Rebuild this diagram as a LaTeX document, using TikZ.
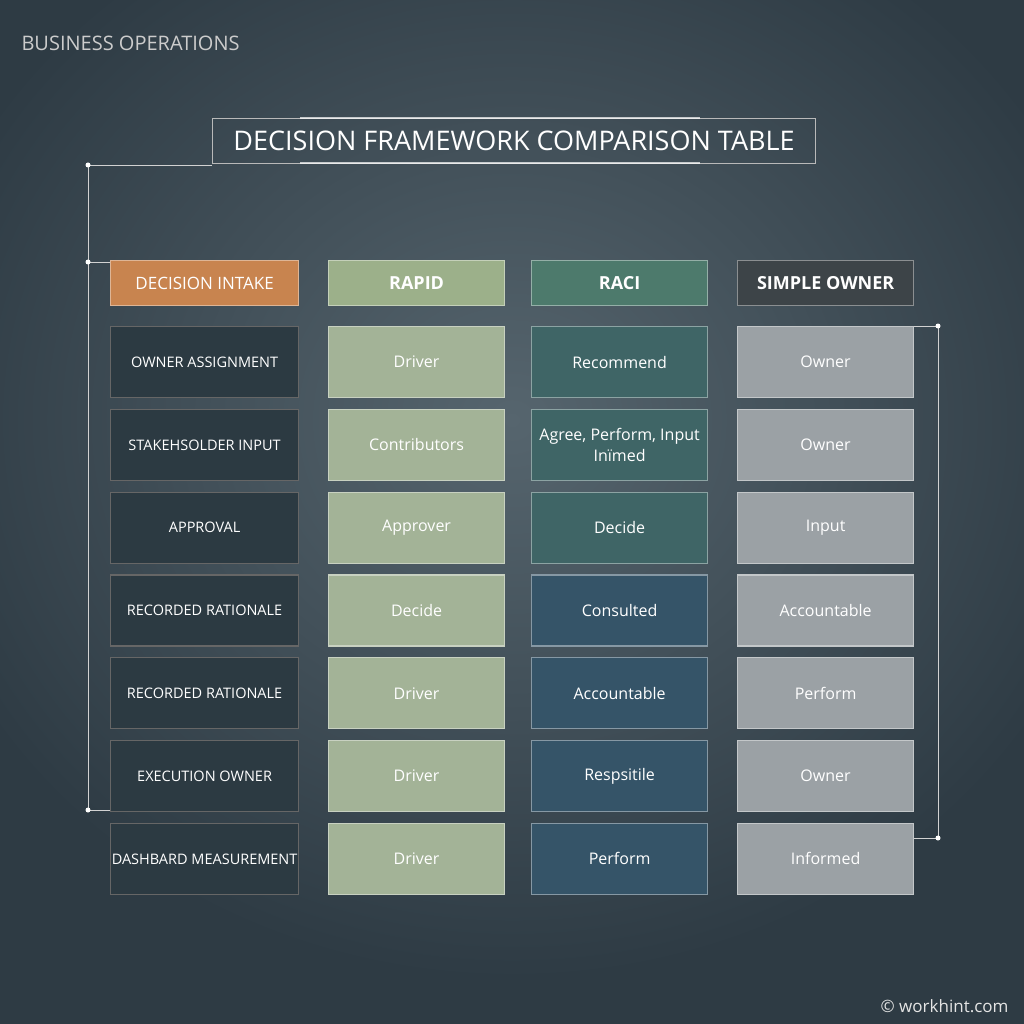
\documentclass[tikz,border=0pt]{standalone}
\usepackage{fontspec}
\setmainfont{Open Sans}
\begin{document}
\begin{tikzpicture}[x=1pt,y=-1pt,
 cell/.style={draw=#1!60!white,line width=1.2pt,minimum width=176pt,minimum height=71pt,inner sep=0pt,anchor=north west,text=white,font=\fontsize{16}{21}\selectfont,align=center},
 hdr/.style={cell=#1,minimum height=45pt,font=\fontsize{18}{20}\selectfont\bfseries},
 dot/.style={circle,fill=white,inner sep=0pt,minimum size=5pt},
 wire/.style={draw=white!65!gray,line width=0.8pt}]
\definecolor{bgA}{HTML}{2E3B44}\definecolor{bgB}{HTML}{56656E}
\definecolor{orng}{HTML}{C8844F}\definecolor{rph}{HTML}{9CB08A}\definecolor{rpc}{HTML}{A3B397}
\definecolor{rch}{HTML}{4D7A6C}\definecolor{rct}{HTML}{3F6566}\definecolor{rcb}{HTML}{355468}
\definecolor{soh}{HTML}{3D4448}\definecolor{soc}{HTML}{9BA1A5}\definecolor{lab}{HTML}{2C3A42}
\useasboundingbox (0,0) rectangle (1024,1024);
\fill[bgA] (0,0) rectangle (1024,1024);
\shade[inner color=bgB,outer color=bgA] (512,420) ellipse (620 and 560);
\node[anchor=west,text=white!60!gray,font=\fontsize{20}{22}\selectfont] (bo) at (18,43) {BUSINESS OPERATIONS};
\node[draw=white!45!gray,line width=1pt,minimum width=603pt,minimum height=45pt,anchor=north west,inner sep=0pt,text=white,font=\fontsize{27}{30}\selectfont] (title) at (212,118) {DECISION FRAMEWORK COMPARISON TABLE};
\draw[white,line width=1.5pt,opacity=0.7] (300,118)--(700,118) (300,163)--(700,163);
% headers
\node[hdr=orng,fill=orng,minimum width=188pt,font=\fontsize{17}{20}\selectfont] (h0) at (110,260) {DECISION INTAKE};
\node[hdr=rph,fill=rph] (h1) at (328,260) {RAPID};
\node[hdr=rch,fill=rch] (h2) at (531,260) {RACI};
\node[hdr=soh,fill=soh] (h3) at (737,260) {SIMPLE OWNER};
\foreach \i/\a/\b/\c/\d/\rc in {
 1/OWNER ASSIGNMENT/Driver/Recommend/Owner/rct,
 2/STAKEHSOLDER INPUT/Contributors/{Agree, Perform, Input\\Inïmed}/Owner/rct,
 3/APPROVAL/Approver/Decide/Input/rct,
 4/RECORDED RATIONALE/Decide/Consulted/Accountable/rcb,
 5/RECORDED RATIONALE/Driver/Accountable/Perform/rcb,
 6/EXECUTION OWNER/Driver/Respsitile/Owner/rcb,
 7/DASHBARD MEASUREMENT/Driver/Perform/Informed/rcb}{
 \pgfmathsetmacro\yy{326+(\i-1)*82.8}
 \node[cell=gray,draw=gray!80!black,fill=lab,minimum width=188pt,font=\fontsize{14.5}{18}\selectfont] (a\i) at (110,\yy) {\a};
 \node[cell=rpc,fill=rpc] (b\i) at (328,\yy) {\b};
 \node[cell=\rc,fill=\rc] (c\i) at (531,\yy) {\c};
 \node[cell=soc,fill=soc] (d\i) at (737,\yy) {\d};
}
% wires
\coordinate (lt) at (88,165); \coordinate (lh) at (88,262); \coordinate (lb) at (88,810);
\coordinate (rt) at (938,326); \coordinate (rb) at (938,838);
\draw[wire] (lt -| title.west)--(lt)--(lb)--(lb -| a6.west);
\draw[wire] (lh)--(lh -| h0.west);
\draw[wire] (rt -| d1.east)--(rt)--(rb)--(rb -| d7.east);
\foreach \c in {lt,lh,lb,rt,rb} \node[dot] at (\c) {};
\node[anchor=south east,text=white!80!gray,font=\fontsize{17}{20}\selectfont] (wm) at (1012,1016) {© workhint.com};
\end{tikzpicture}
\end{document}
